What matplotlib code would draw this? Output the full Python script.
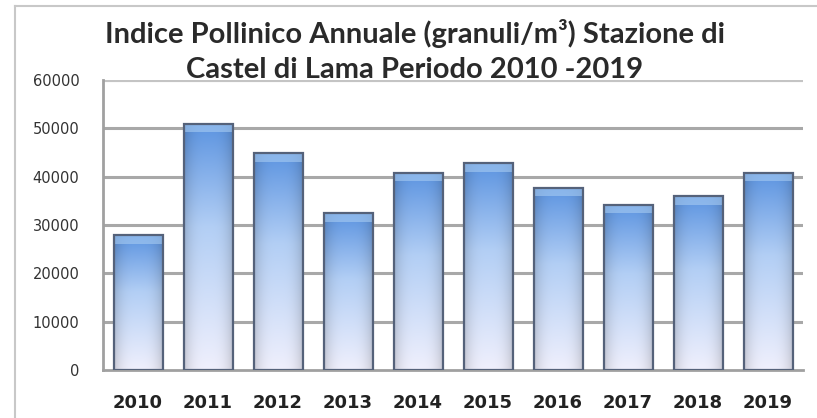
import numpy as np
import matplotlib.pyplot as plt
from matplotlib.patches import Rectangle

# Annual pollen index, Castel di Lama station
years = ['2010', '2011', '2012', '2013', '2014', '2015', '2016', '2017', '2018', '2019']
values = [27900, 51000, 44900, 32400, 40800, 42800, 37700, 34200, 35900, 40800]
y_ticks = [0, 10000, 20000, 30000, 40000, 50000, 60000]

fig = plt.figure(figsize=(8.17, 4.18), dpi=100)
fig.patch.set_facecolor('white')

# thin frame round the chart area
fig.add_artist(plt.Line2D([15/817, 15/817], [0, 1 - 6/418], color='#c8c8c8', lw=1.5))
fig.add_artist(plt.Line2D([15/817, 1], [1 - 6/418, 1 - 6/418], color='#c8c8c8', lw=1.5))

ax = fig.add_axes([103/817, 1 - 370/418, 700/817, 290/418])
ax.set_xlim(-0.5, 9.5)
ax.set_ylim(0, 60000)
ax.set_facecolor('white')

for t in y_ticks[1:]:
    ax.axhline(t, color='#a8a8a8' if t < 60000 else '#c4c4c4', lw=2.2 if t < 60000 else 3, zorder=1)

for s in ['top', 'right']:
    ax.spines[s].set_visible(False)
for s in ['left', 'bottom']:
    ax.spines[s].set_color('#a0a0a0')
    ax.spines[s].set_linewidth(2)

# gradient fill for the bars: blue at the top fading to pale at the base
n = 200
v = np.linspace(0, 1, n)[:, None]
top_c = np.array([0.36, 0.58, 0.88])
mid_c = np.array([0.70, 0.81, 0.96])
bot_c = np.array([0.94, 0.94, 0.99])
col = np.where(v < 0.42, top_c + (mid_c - top_c) * (v / 0.42),
               mid_c + (bot_c - mid_c) * ((v - 0.42) / 0.58))
h = np.linspace(-1, 1, 60)[None, :]
shade = 1 - 0.16 * np.abs(h) ** 3
grad = col[:, None, :] * shade[:, :, None]
grad = np.clip(grad, 0, 1)

w = 0.7
for i, val in enumerate(values):
    x0, x1 = i - w / 2, i + w / 2
    ax.imshow(grad, extent=[x0, x1, 0, val], aspect='auto', origin='upper', zorder=2,
              interpolation='bilinear')
    # light band at the top edge
    ax.add_patch(Rectangle((x0, val - 1800), w, 1800, facecolor='#a8ccf2', alpha=0.6,
                           edgecolor='none', zorder=3))
    ax.add_patch(Rectangle((x0, 0), w, val, facecolor='none', edgecolor='#55627a',
                           lw=1.6, zorder=4))

ax.set_xlim(-0.5, 9.5)
ax.set_ylim(0, 60000)

ax.set_yticks(y_ticks)
ax.set_yticklabels([str(t) for t in y_ticks], fontsize=10.5, color='#333333')
ax.set_xticks(range(len(years)))
ax.set_xticklabels(years, fontsize=13, fontweight='bold', color='#222222')
ax.tick_params(axis='y', length=0, pad=17)
ax.tick_params(axis='x', length=0, pad=17)

fig.text(0.508, 1 - 51/418, 'Indice Pollinico Annuale (granuli/m³) Stazione di\nCastel di Lama Periodo 2010 -2019',
         ha='center', va='center', fontsize=21, fontweight='bold', color='#2a2a2a',
         family=['Lato', 'DejaVu Sans'], linespacing=1.42)

fig.savefig('out.png', dpi=100, facecolor='white')
